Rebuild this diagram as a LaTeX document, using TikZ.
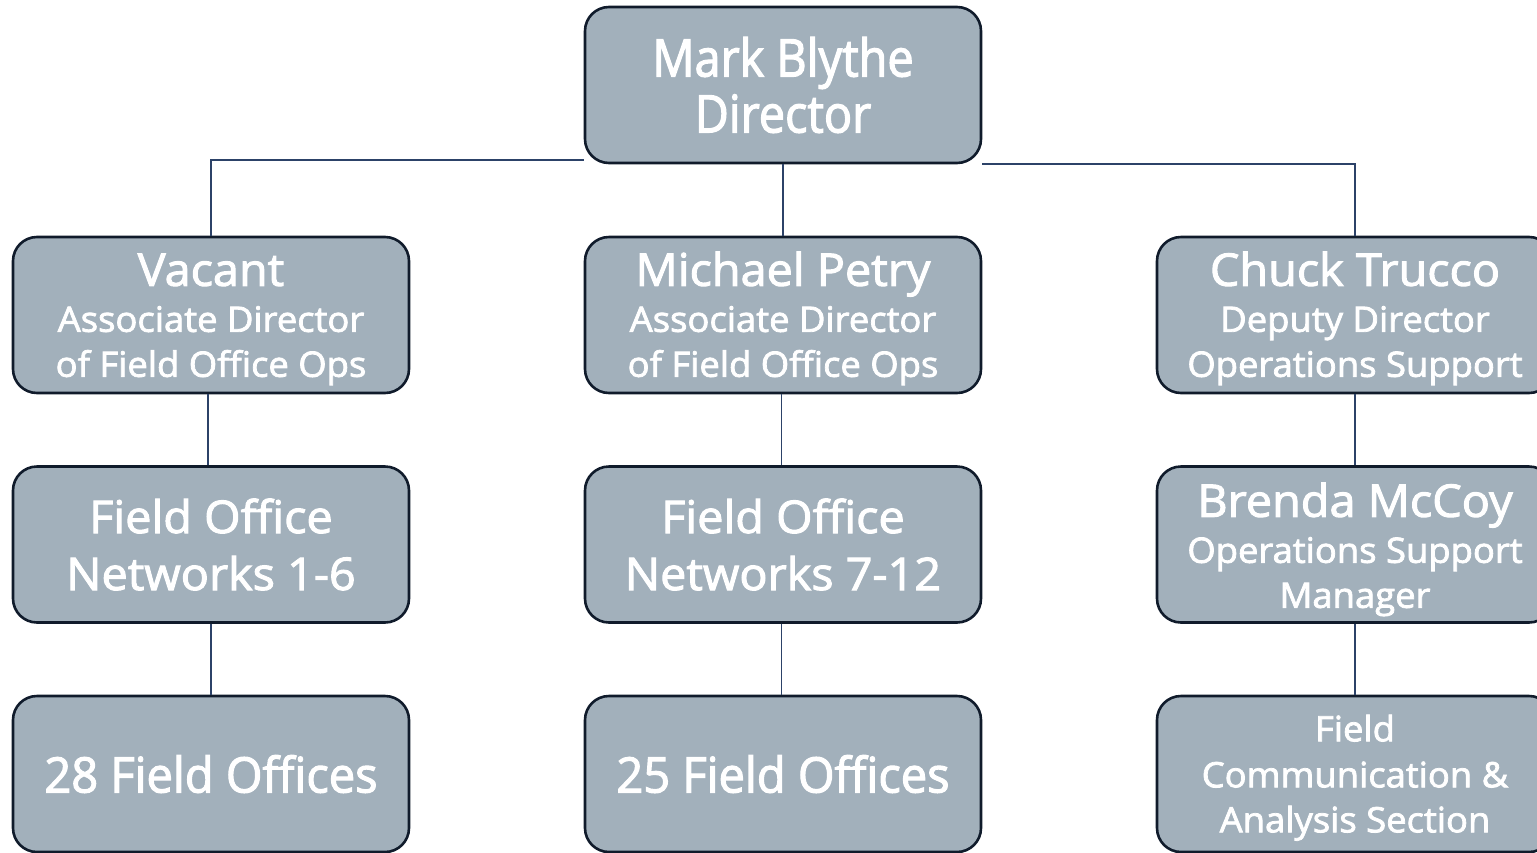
\documentclass[tikz,border=0pt]{standalone}
\usepackage{fontspec}
\setmainfont{Open Sans}[FakeBold=2.2]
\usetikzlibrary{calc}
\newcommand{\fTop}{\fontsize{52}{56}\selectfont\addfontfeatures{FakeStretch=0.9}}
\newcommand{\fNet}{\fontsize{45}{57}\selectfont\addfontfeatures{FakeStretch=1.04}}
\newcommand{\fOff}{\fontsize{49}{57}\selectfont\addfontfeatures{FakeStretch=0.96}}
\newcommand{\fName}{\fontsize{45}{48}\selectfont\addfontfeatures{FakeStretch=1.04}}
\newcommand{\fSub}{\fontsize{35}{45}\selectfont\addfontfeatures{FakeStretch=1.04}}
\newcommand{\fSec}{\fontsize{35}{45}\selectfont\addfontfeatures{FakeStretch=1.04}}
\definecolor{boxfill}{HTML}{A2B0BB}
\definecolor{boxline}{HTML}{101B2B}
\definecolor{conn}{HTML}{2C4268}
\begin{document}
\begin{tikzpicture}[x=1pt,y=-1pt]
\tikzset{
  orgbox/.style={draw=boxline, line width=2.6pt, fill=boxfill, rounded corners=24pt,
    minimum width=396pt, minimum height=156pt, inner sep=0pt, align=center,
    text=white, font=\fSub},
  link/.style={draw=conn, line width=1.4pt}
}
\useasboundingbox (0,0) rectangle (1537,852);
\clip (0,0) rectangle (1537,852);
% boxes
\node[orgbox, font=\fTop] (top) at (783,85) {Mark Blythe\\Director};
\node[orgbox] (vac) at (211,315) {{\fName\rule{0pt}{41pt}Vacant}\\[1pt]Associate Director\\of Field Office Ops};
\node[orgbox] (mic) at (783,315) {{\fName\rule{0pt}{41pt}Michael Petry}\\[1pt]Associate Director\\of Field Office Ops};
\node[orgbox] (chu) at (1355,315) {{\fName\rule{0pt}{41pt}Chuck Trucco}\\[1pt]Deputy Director\\Operations Support};
\node[orgbox, font=\fNet] (fn1) at (211,544.5) {Field Office\\Networks 1-6};
\node[orgbox, font=\fNet] (fn2) at (783,544.5) {Field Office\\Networks 7-12};
\node[orgbox] (bre) at (1355,544.5) {{\fName\rule{0pt}{44pt}Brenda McCoy}\\[1pt]Operations Support\\Manager};
\node[orgbox, font=\fOff] (fo1) at (211,774) {28 Field Offices};
\node[orgbox, font=\fOff] (fo2) at (783,774) {25 Field Offices};
\node[orgbox, font=\fSec] (fca) at (1355,774) {\rule{0pt}{34pt}Field\\[1pt]Communication \&\\Analysis Section};
% connectors
\draw[link] ($(top.west)+(0,75)$) -| (vac.north);
\draw[link] ($(top.east)+(0,79)$) -| (chu.north);
\draw[link] (top.south) -- (mic.north);
\draw[link] ([xshift=-3pt]vac.south) -- ([xshift=-3pt]fn1.north);
\draw[link] (fn1.south) -- (fo1.north);
\draw[link] ([xshift=-1.5pt]mic.south) -- ([xshift=-1.5pt]fn2.north);
\draw[link] ([xshift=-1.5pt]fn2.south) -- ([xshift=-1.5pt]fo2.north);
\draw[link] (chu.south) -- (bre.north);
\draw[link] (bre.south) -- (fca.north);
\end{tikzpicture}
\end{document}
